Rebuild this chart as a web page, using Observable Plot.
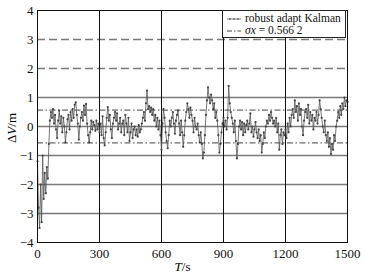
<!DOCTYPE html>
<html>
<head>
<meta charset="utf-8">
<script src="https://cdn.jsdelivr.net/npm/d3@7"></script>
<script src="https://cdn.jsdelivr.net/npm/@observablehq/plot@0.6"></script>
<style>
  html, body { margin: 0; padding: 0; background: white; }
  #wrap { position: relative; width: 365px; height: 277px; font-family: "Liberation Serif", "DejaVu Serif", serif; }
  #wrap > svg { position: absolute; left: 0; top: 0; }
  #wrap svg text { font-family: "Liberation Serif", serif !important; font-size: 13px; fill: #111; }
  .legend { position: absolute; left: 222px; top: 10px; width: 124px; height: 28px; background: white; border: 1px solid #222; box-sizing: border-box; font-size: 11.5px; color: #111; }
  .legend .row { position: absolute; left: 4px; height: 13px; line-height: 13px; white-space: nowrap; }
  .legend svg { position: static !important; vertical-align: middle; margin-right: 4px; }
  .xt { position: absolute; left: 0; width: 365px; text-align: center; top: 259px; font-size: 13px; }
  .yt { position: absolute; left: 12px; top: 128px; font-size: 13px; transform: translate(-50%, -50%) rotate(-90deg); white-space: nowrap; }
</style>
</head>
<body>
<div id="wrap"></div>
<script>
// x ticks, y ticks
const xTicks = [0, 300, 600, 900, 1200, 1500];
const yTicks = [-4, -3, -2, -1, 0, 1, 2, 3, 4];
const xGrid = [300, 600, 900, 1200];
const ySolid = [-3, -2, -1, 0, 1];
const yDashed = [2, 3];
const sigma = 0.5662;
const step = 5; // seconds between samples
// ΔV (m), one value every 5 s from 0 to 1500 s
const dv = [
  -1.2, -2.8, -3.5, -2.0, -3.3, -1.0, -2.5, -1.6, -2.3, -1.4,
  -1.8, -0.6, 0.2, 0.5, 0.3, 0.6, 0.1, 0.4, -0.1, -0.4,
  0.2, 0.55, 0.1, 0.35, -0.2, 0.3, 0.0, -0.55, -0.2, 0.25,
  0.4, -0.1, 0.5, 0.2, 0.6, 0.3, 0.75, 0.83, 0.4, 0.1,
  -0.45, 0.0, 0.3, 0.5, 0.2, 0.72, 0.4, 0.78, 0.1, -0.3,
  -0.55, -0.2, 0.2, -0.1, 0.15, 0.05, -0.15, 0.2, -0.1, 0.1,
  -0.2, 0.1, -0.3, 0.35, -0.4, -0.65, -0.2, 0.3, 0.67, 0.2,
  0.4, -0.1, -0.4, 0.1, 0.3, 0.5, 0.2, 0.45, -0.1, 0.1,
  0.3, -0.2, 0.1, 0.2, -0.3, 0.4, 0.1, -0.2, 0.3, -0.5,
  -0.2, 0.1, -0.4, -0.1, 0.0, -0.3, -0.1, -0.35, 0.05, -0.2,
  -0.1, 0.1, 0.3, 0.5, 0.2, 0.8, 1.24, 0.6, 0.7, 0.5,
  0.65, 0.4, 0.6, 0.2, 0.4, 0.0, 0.3, -0.1, 0.2, -0.3,
  -0.8, 0.1, 0.6, 0.3, -0.2, -0.5, -0.75, -0.3, 0.2, 0.0,
  0.3, 0.5, 0.1, -0.25, 0.2, 0.4, 0.55, 0.1, -0.3, 0.2,
  -0.2, -0.7, -0.3, 0.2, 0.5, 0.8, 0.6, 0.3, 0.65, 0.4,
  0.2, -0.2, 0.3, 0.0, -0.1, 0.1, -0.3, -0.55, -0.2, -0.6,
  -1.1, -0.9, -0.3, 0.4, 0.9, 1.35, 1.0, 0.8, 1.1, 0.9,
  0.6, 0.8, 0.3, 0.5, 0.2, -0.3, -0.9, -0.6, -0.2, 0.1,
  0.3, 0.0, 0.2, -0.1, 0.3, 1.4, 0.8, 0.5, 0.3, 0.1,
  -0.2, 0.2, -0.5, -1.1, -0.6, 0.0, 0.2, -0.1, 0.15, -0.3,
  0.1, -0.2, 0.05, 0.2, -0.1, 0.1, 0.45, -0.2, 0.0, -0.35,
  -0.1, 0.15, -0.2, -0.4, -0.1, -0.5, -0.3, -0.9, -0.6, -0.2,
  -0.4, 0.0, 0.2, 0.1, 0.4, 0.2, 0.5, 0.3, 0.1, 0.2,
  0.0, 0.3, -0.2, 0.1, -0.8, -0.3, -0.1, -0.6, -0.2, -0.3,
  -0.1, -0.4, 0.1, -0.2, 0.3, 0.0, 0.4, 0.6, 0.3, 0.9,
  0.5, 0.7, 0.2, 0.8, 0.4, 0.6, 0.0, -0.3, 0.2, 0.5,
  0.6, 0.3, 0.75, 0.1, 0.5, 0.2, 0.4, -0.1, 0.3, 0.2,
  0.5, 0.1, 0.4, 0.9, 0.6, 0.3, 0.0, -0.2, 0.2, -0.3,
  -0.5, -0.2, -0.7, -0.4, -0.95, -0.6, -0.8, -0.3, -0.5, 0.0,
  0.2, 0.5, 0.3, 0.7, 0.4, 0.8, 0.6, 1.0, 0.7, 0.9, 0.85
];
const data = dv.map((v, i) => ({t: i * step, v}));

const chart = Plot.plot({
  width: 365, height: 277,
  marginLeft: 37, marginRight: 18, marginTop: 10, marginBottom: 35,
  x: {domain: [0, 1500]},
  y: {domain: [-4, 4]},
  style: {fontFamily: "'Liberation Serif', serif", fontSize: "13px", background: "transparent", color: "#111"},
  marks: [
    Plot.ruleY(ySolid, {stroke: "#7a7a7a", strokeWidth: 1.4}),
    Plot.ruleY(yDashed, {stroke: "#7a7a7a", strokeWidth: 1.4, strokeDasharray: "8,4"}),
    Plot.ruleX(xGrid, {stroke: "#111", strokeWidth: 1}),
    Plot.ruleY([sigma, -sigma], {stroke: "#444", strokeWidth: 1, strokeDasharray: "6,2.5,1.5,2.5"}),
    Plot.line(data, {x: "t", y: "v", stroke: "#555", strokeWidth: 0.8}),
    Plot.dot(data, {x: "t", y: "v", r: 1.1, fill: "#444", stroke: null}),
    Plot.frame({stroke: "#111", strokeWidth: 1}),
    Plot.axisX({ticks: xTicks, tickSize: 0, tickPadding: 6, label: null, tickFormat: d => String(d)}),
    Plot.axisY({ticks: yTicks, tickSize: 0, tickPadding: 4, label: null, tickFormat: d => d < 0 ? "\u2212" + (-d) : String(d)})
  ]
});
const wrap = document.getElementById("wrap");
wrap.appendChild(chart);

const legend = document.createElement("div");
legend.className = "legend";
legend.innerHTML =
  '<div class="row" style="top:1px"><svg width="14" height="8"><line x1="0" y1="4" x2="14" y2="4" stroke="#666" stroke-width="0.8"/><circle cx="3" cy="4" r="0.8" fill="#333"/><circle cx="7" cy="4" r="0.8" fill="#333"/><circle cx="11" cy="4" r="0.8" fill="#333"/></svg>robust adapt Kalman</div>' +
  '<div class="row" style="top:13px"><svg width="14" height="8"><line x1="0" y1="4" x2="14" y2="4" stroke="#444" stroke-width="1" stroke-dasharray="5,2,1.5,2"/></svg><i>\u03c3x</i> = 0.566 2</div>';
wrap.appendChild(legend);

const xt = document.createElement("div");
xt.className = "xt";
xt.innerHTML = "<i>T</i>/s";
wrap.appendChild(xt);
const yt = document.createElement("div");
yt.className = "yt";
yt.innerHTML = "\u0394<i>V</i>/m";
wrap.appendChild(yt);
</script>
</body>
</html>
